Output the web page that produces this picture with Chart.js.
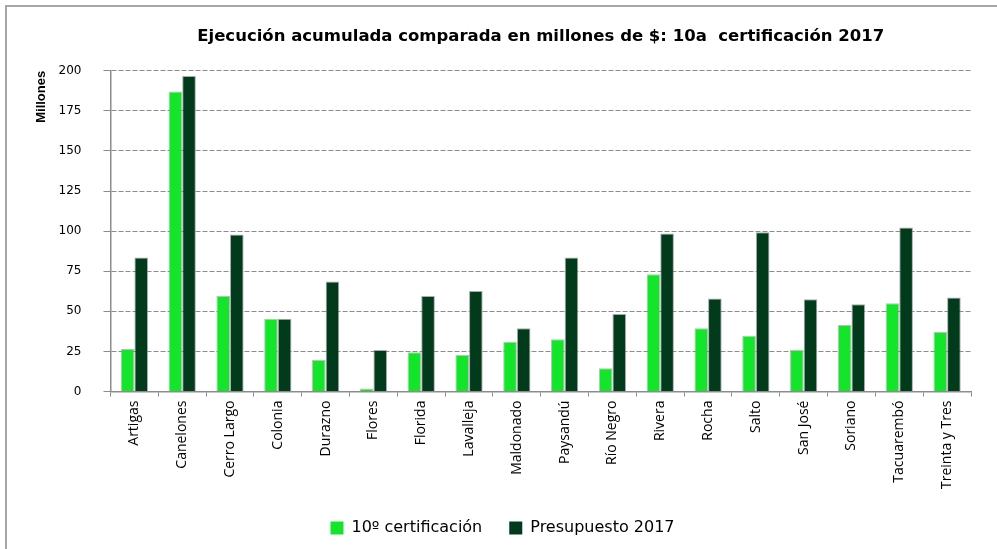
<!DOCTYPE html>
<html>
<head>
<meta charset="utf-8">
<script src="https://cdn.jsdelivr.net/npm/chart.js@4.4.0/dist/chart.umd.min.js"></script>
<style>
  html, body { margin: 0; padding: 0; background: #fff; }
  #wrap { position: relative; width: 997px; height: 549px; overflow: hidden; }
  #frame { position: absolute; left: 5px; top: 5px; right: -4px; bottom: -4px;
           border-left: 2px solid #a6a6a6; border-top: 2px solid #a6a6a6; pointer-events: none; }
  canvas { position: absolute; left: 0; top: 0; }
</style>
</head>
<body>
<div id="wrap">
  <canvas id="chart" width="997" height="549"></canvas>
  <div id="frame"></div>
</div>
<script>
var departamentos = ['Artigas', 'Canelones', 'Cerro Largo', 'Colonia', 'Durazno', 'Flores', 'Florida',
    'Lavalleja', 'Maldonado', 'Paysandú', 'Río Negro', 'Rivera', 'Rocha', 'Salto', 'San José',
    'Soriano', 'Tacuarembó', 'Treinta y Tres'];

var certificacion = [26.6, 187.1, 59.6, 45.4, 19.7, 1.9, 24.5, 22.8, 31.1, 32.6, 14.5, 73.2,
    39.4, 34.8, 25.9, 41.5, 55.0, 37.2];

var presupuesto = [83.6, 196.7, 97.9, 45.4, 68.7, 25.9, 59.6, 62.7, 39.4, 83.6, 48.3, 98.6,
    58.1, 99.4, 57.5, 54.4, 102.3, 58.7];

var yTicks = [0, 25, 50, 75, 100, 125, 150, 175, 200];

var axisGray = '#8c8c8c';

function initChart() {
    var canvas = document.getElementById('chart');

    new Chart(canvas, {
        type: 'bar',
        data: {
            labels: departamentos,
            datasets: [
                {
                    label: '10º certificación',
                    data: certificacion,
                    backgroundColor: '#12e52a',
                    borderColor: 'rgba(130,140,130,0.55)',
                    borderWidth: 1,
                    categoryPercentage: 0.57,
                    barPercentage: 1.0
                },
                {
                    label: 'Presupuesto 2017',
                    data: presupuesto,
                    backgroundColor: '#023a1c',
                    borderColor: 'rgba(130,140,130,0.7)',
                    borderWidth: 1,
                    categoryPercentage: 0.57,
                    barPercentage: 1.0
                }
            ]
        },
        options: {
            responsive: false,
            animation: false,
            layout: {
                padding: { left: 34, right: 26, top: 14, bottom: 3 }
            },
            plugins: {
                title: {
                    display: true,
                    fullSize: false,
                    text: 'Ejecución acumulada comparada en millones de $: 10a  certificación 2017',
                    color: '#000',
                    font: { family: 'DejaVu Sans', size: 16.5, weight: 'bold' },
                    padding: { top: 13, bottom: 24 }
                },
                legend: {
                    position: 'bottom',
                    labels: {
                        color: '#000',
                        font: { family: 'DejaVu Sans', size: 16 },
                        boxWidth: 13,
                        boxHeight: 13,
                        padding: 27,
                        generateLabels: function(chart) {
                            return chart.data.datasets.map(function(ds, i) {
                                return {
                                    text: ds.label,
                                    fillStyle: ds.backgroundColor,
                                    strokeStyle: ds.backgroundColor,
                                    lineWidth: 0,
                                    datasetIndex: i,
                                    fontColor: '#000'
                                };
                            });
                        }
                    }
                },
                tooltip: { enabled: false }
            },
            scales: {
                x: {
                    grid: {
                        drawOnChartArea: false,
                        drawTicks: true,
                        tickLength: 5,
                        tickColor: axisGray,
                        offset: true
                    },
                    border: { color: axisGray, width: 1.5 },
                    ticks: {
                        color: '#000',
                        font: { family: 'Open Sans', size: 14 },
                        minRotation: 90,
                        maxRotation: 90,
                        autoSkip: false,
                        padding: 4
                    }
                },
                y: {
                    min: 0,
                    max: 200,
                    afterBuildTicks: function(axis) {
                        axis.ticks = yTicks.map(function(v) { return { value: v }; });
                    },
                    grid: {
                        color: axisGray,
                        lineWidth: 1,
                        tickLength: 7,
                        tickColor: axisGray
                    },
                    border: { color: axisGray, width: 1.5, dash: [5, 2] },
                    ticks: {
                        color: '#000',
                        font: { family: 'DejaVu Sans', size: 12 },
                        padding: 22
                    },
                    title: {
                        display: true,
                        text: 'Millones',
                        align: 'end',
                        color: '#000',
                        font: { family: 'Liberation Sans', size: 13, weight: 'bold' },
                        padding: { top: 0, bottom: -13 }
                    }
                }
            }
        }
    });
}

initChart();
</script>
</body>
</html>
